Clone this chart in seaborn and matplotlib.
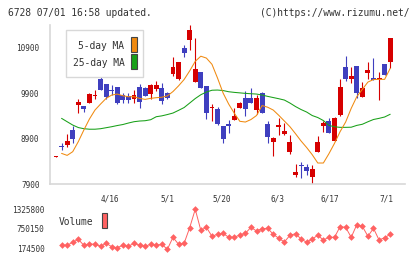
import numpy as np
import pandas as pd
import matplotlib
matplotlib.use("Agg")
import matplotlib.pyplot as plt
from matplotlib.patches import Rectangle
import seaborn as sns

# ---------------- data ----------------
opens = [8490, 8740, 8758, 9088, 9638, 9616, 9689, 9845, 10217, 10100,
         9958, 10046, 9858, 9836, 9763, 10046, 10024, 9880, 9990, 10005,
         9902, 10320, 10203, 10892, 11068, 10151, 10357, 10056, 9580, 9543,
         9176, 9203, 9308, 9579, 9792, 9792, 9528, 9909, 9220, 8831,
         9171, 9000, 8611, 8098, 8308, 8274, 8061, 8611, 9176, 9286,
         8853, 9418, 10467, 10217, 10496, 9821, 10349, 10232, 10203, 10540,
         10591]
highs = [8510, 8809, 9000, 9176, 9770, 9616, 9909, 9968, 10247, 10100,
         10071, 10046, 9909, 9909, 9968, 10105, 10046, 10100, 10166, 10122,
         9930, 10701, 10584, 10958, 11398, 11105, 10357, 10056, 9660, 9587,
         9176, 9308, 9579, 9700, 9953, 10012, 9858, 9930, 9293, 8941,
         9359, 9249, 8978, 8340, 8384, 8340, 8311, 8956, 9293, 9345,
         9381, 10203, 10716, 10467, 10496, 10144, 10584, 10672, 10364, 10540,
         11112]
lows = [8490, 8648, 8707, 8795, 9469, 9484, 9689, 9777, 9968, 9777,
        9851, 9660, 9675, 9690, 9675, 9569, 9848, 9777, 9953, 9660,
        9770, 10283, 10180, 10687, 10848, 10151, 10005, 9337, 9293, 9190,
        8809, 9029, 9308, 9579, 9396, 9689, 9440, 9469, 8809, 8516,
        8978, 8978, 8560, 8061, 8039, 8105, 7900, 8611, 9051, 9015,
        8853, 9396, 10173, 10115, 9799, 9821, 10217, 10188, 9748, 10305,
        10445]
closes = [8510, 8730, 8846, 8897, 9711, 9543, 9880, 9855, 9968, 9821,
          9948, 9689, 9741, 9748, 9858, 9700, 9848, 10071, 10071, 9726,
          9785, 10467, 10584, 10789, 11288, 10430, 10005, 9469, 9595, 9213,
          8883, 9193, 9396, 9682, 9557, 9689, 9792, 9469, 8941, 8919,
          9181, 9066, 8824, 8164, 8298, 8193, 8230, 8817, 9235, 9015,
          9345, 10027, 10217, 10276, 9909, 10024, 10408, 10188, 10232, 10305,
          11112]

# moving averages and volume start on the 2nd trading day
ma5 = [8574, 8530, 8611, 8831, 9088, 9330, 9528, 9660, 9785, 9858,
       9880, 9843, 9821, 9821, 9785, 9763, 9785, 9800, 9810, 9840,
       9935, 10060, 10200, 10390, 10600, 10713, 10672, 10535, 10232, 9902,
       9660, 9460, 9280, 9264, 9319, 9407, 9627, 9590, 9528, 9411,
       9286, 9161, 9007, 8846, 8703, 8545, 8362, 8362, 8567, 8795,
       9051, 9264, 9565, 9821, 9983, 10144, 10199, 10203, 10203, 10445]
ma25 = [9345, 9271, 9198, 9143, 9117, 9106, 9106, 9117, 9139, 9161,
        9187, 9209, 9242, 9271, 9286, 9293, 9315, 9381, 9400, 9429,
        9462, 9521, 9583, 9682, 9781, 9865, 9924, 9964, 9968, 9957,
        9931, 9917, 9906, 9895, 9887, 9880, 9858, 9829, 9803, 9777,
        9748, 9682, 9605, 9539, 9484, 9407, 9363, 9297, 9190, 9160,
        9147, 9147, 9150, 9190, 9215, 9270, 9320, 9345, 9375, 9435]
volume = [263000, 263000, 351600, 440200, 263000, 301400, 292600, 233500, 322100, 221700,
          192200, 263000, 233500, 322100, 263000, 233500, 292600, 263000, 292600, 145000,
          499200, 292600, 322100, 782600, 1325800, 705900, 794400, 528800, 587800, 617300,
          499200, 499200, 567100, 617300, 794400, 685200, 753100, 764900, 587800, 469700,
          360500, 558300, 605500, 449000, 351600, 449000, 558300, 419500, 499200, 499200,
          812100, 794400, 499200, 871200, 824000, 528800, 764900, 419500, 487400, 587800]

date_labels = ["4/16", "5/1", "5/20", "6/3", "6/17", "7/1"]
price_ticks = [7900, 8900, 9900, 10900]
volume_ticks = [174500, 750150, 1325800]

title_left = "6728 07/01 16:58 updated."
title_right = "(C)https://www.rizumu.net/"

# ---------------- styling / layout ----------------
sns.set_theme(style="white")
plt.rcParams["font.family"] = ["DejaVu Sans Mono", "DejaVu Sans"]

W, H = 420, 259
RED = "#d60000"
BLUE = "#3f3fbf"
ORANGE = "#f08a10"
GREEN = "#18a018"
VOLC = "#ff6262"
AXC = "#d8d8d8"
TXT = "#333333"

def fx(x):
    return x / W

def fy(y):
    return 1 - y / H

fig = plt.figure(figsize=(W / 100, H / 100), dpi=100)
fig.patch.set_facecolor("white")

ax = fig.add_axes([fx(50), fy(184), 355 / W, 159 / H])
axv = fig.add_axes([fx(50), fy(252), 355 / W, 48 / H])

candles = pd.DataFrame({"day": np.arange(len(opens)), "open": opens, "high": highs,
                        "low": lows, "close": closes})
lines = pd.DataFrame({"day": np.arange(1, len(opens)), "ma5": ma5, "ma25": ma25,
                      "volume": volume})

up = candles["close"] >= candles["open"]
cols = np.where(up, RED, BLUE)
body_lo = np.minimum(candles["open"], candles["close"])
body_h = np.abs(candles["close"] - candles["open"])
min_h = 24
mid = body_lo + body_h / 2
body_h2 = np.maximum(body_h, min_h)
bottom2 = np.where(body_h < min_h, mid - min_h / 2, body_lo)

ax.vlines(candles["day"], candles["low"], candles["high"], colors=cols, lw=0.8, zorder=2)
ax.bar(candles["day"], body_h2, bottom=bottom2, width=0.88, color=cols, lw=0, zorder=3)

sns.lineplot(data=lines, x="day", y="ma25", color=GREEN, lw=0.75, ax=ax, zorder=4)
sns.lineplot(data=lines, x="day", y="ma5", color=ORANGE, lw=0.75, ax=ax, zorder=4)

x0 = -6 / 5.57
x1 = 349 / 5.57
ax.set_xlim(x0, x1)
ax.set_ylim(7900, 11400)
ax.set_xlabel("")
ax.set_ylabel("")

for s in ["top", "right"]:
    ax.spines[s].set_visible(False)
for s in ["left", "bottom"]:
    ax.spines[s].set_color(AXC)
    ax.spines[s].set_linewidth(1.2)

ax.set_yticks(price_ticks)
ax.set_yticklabels([str(v) for v in price_ticks])
ax.tick_params(axis="y", direction="inout", length=6, width=0.9, color=AXC,
               labelsize=5.6, labelcolor=TXT, pad=4.6)

ax.set_xticks(np.linspace(x0, x1, 12))
ax.set_xticklabels([])
ax.tick_params(axis="x", which="major", direction="out", length=3.8, width=1.0, color=AXC)
date_pos = [9.7, 20.0, 29.8, 39.7, 49.2, 59.4]
ax.set_xticks(date_pos, minor=True)
ax.set_xticklabels(date_labels, minor=True)
ax.tick_params(axis="x", which="minor", length=0, labelsize=5.6, labelcolor=TXT, pad=7.5)

# volume panel
sns.lineplot(data=lines, x="day", y="volume", color=VOLC, lw=0.7, marker="D",
             markersize=3.4, markeredgewidth=0, ax=axv)
axv.set_xlim(x0, x1)
axv.set_ylim(65272, 1482261)
axv.set_xlabel("")
axv.set_ylabel("")
for s in axv.spines.values():
    s.set_visible(False)
axv.set_xticks([])
axv.set_yticks(volume_ticks)
axv.set_yticklabels([str(v) for v in volume_ticks])
axv.tick_params(axis="y", length=0, labelsize=5.6, labelcolor=TXT, pad=4.1)
axv.patch.set_alpha(0)

# legend of the price panel
fig.add_artist(Rectangle((fx(65.7), fy(77.3)), 77.6 / W, 47 / H, transform=fig.transFigure,
                         facecolor="white", edgecolor=AXC, lw=1.0, zorder=10))
fig.text(fx(124.5), fy(46), "5-day MA", ha="right", va="center", fontsize=6.9,
         color=TXT, zorder=11)
fig.text(fx(124.5), fy(63.3), "25-day MA", ha="right", va="center", fontsize=6.9,
         color=TXT, zorder=11)
fig.add_artist(Rectangle((fx(131), fy(52.3)), 6 / W, 15 / H, transform=fig.transFigure,
                         facecolor=ORANGE, edgecolor="#444444", lw=0.8, zorder=11))
fig.add_artist(Rectangle((fx(131), fy(69.3)), 6 / W, 15 / H, transform=fig.transFigure,
                         facecolor=GREEN, edgecolor="#444444", lw=0.8, zorder=11))

# legend of the volume panel
fig.text(fx(59), fy(221.7), "Volume", ha="left", va="center", fontsize=6.9, color=TXT)
fig.add_artist(Rectangle((fx(101.7), fy(228.3)), 5.6 / W, 15 / H, transform=fig.transFigure,
                         facecolor=VOLC, edgecolor="#444444", lw=0.8, zorder=11))

# header
fig.text(fx(8), fy(12.5), title_left, ha="left", va="center", fontsize=6.9, color=TXT)
fig.text(fx(410), fy(12.5), title_right, ha="right", va="center", fontsize=6.9, color=TXT)

fig.savefig("out.png", dpi=100, facecolor="white")
